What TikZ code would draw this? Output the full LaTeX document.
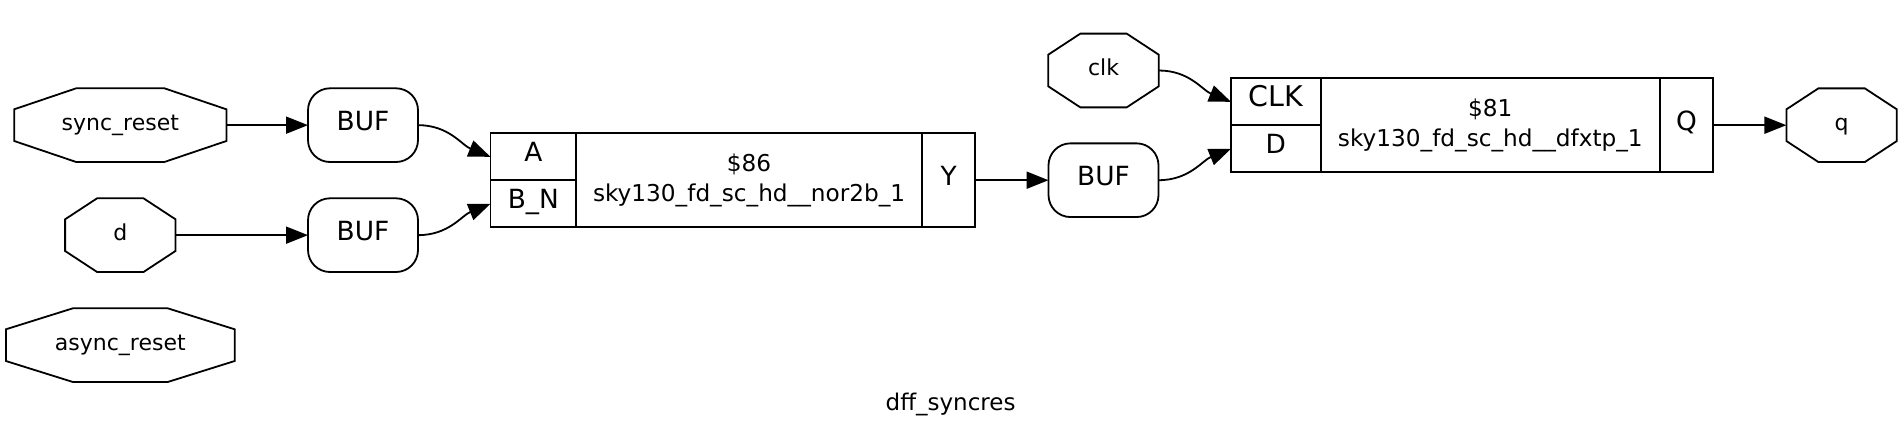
\documentclass[tikz,border=0pt]{standalone}
\usepackage{fontspec}
\setmainfont{DejaVu Sans}
\usetikzlibrary{arrows.meta,positioning}

\begin{document}
\begin{tikzpicture}[%
    x=1pt, y=-1pt,
    >={Triangle[length=22pt,width=17pt]},
    line width=1.8pt,
    ]
\tikzset{
  base/.style={draw, outer sep=0pt, inner sep=0pt, align=center},
  smalltext/.style={font=\fontsize{22}{30}\selectfont, text height=17pt, text depth=7pt},
  bigtext/.style={font=\fontsize{26.4}{30}\selectfont, text height=17pt, text depth=7pt},
  gatetext/.style={font=\fontsize{23.2}{30}\selectfont},
  octport/.style 2 args={smalltext, outer sep=0pt, inner sep=0pt, minimum height=73.7pt, minimum width=#1,
    append after command={\pgfextra{\draw ([xshift=#2]\tikzlastnode.north west) -- ([xshift=-#2]\tikzlastnode.north east)
      -- ([yshift=-21pt]\tikzlastnode.north east) -- ([yshift=21pt]\tikzlastnode.south east)
      -- ([xshift=-#2]\tikzlastnode.south east) -- ([xshift=#2]\tikzlastnode.south west)
      -- ([yshift=21pt]\tikzlastnode.south west) -- ([yshift=-21pt]\tikzlastnode.north west) -- cycle;}}},
  octwide/.style={octport={212.2pt}{62pt}},
  octlong/.style={octport={228.8pt}{67pt}},
  octshort/.style={octport={110.4pt}{32pt}},
  bufbox/.style={base, bigtext, rounded corners=22pt, minimum width=110pt, minimum height=73.7pt},
  pincell/.style={base, bigtext, minimum height=47pt},
  gatecell/.style={base, gatetext, minimum height=93.8pt},
  wire/.style={->}
}
    % inputs of the nor gate
    \node [octwide] (syncreset) at (120.3,125.15) {sync\_reset};
    \node [bufbox, right=81.6pt of syncreset] (bufsync) {BUF};
    \node [octshort, below=36.3pt of syncreset] (din) {d};
    \node [bufbox, below=36.3pt of bufsync] (bufd) {BUF};
    \node [octlong, below=36.3pt of din] (asyncreset) {async\_reset};
    % nor gate
    \node [pincell, minimum width=85.7pt] (pina) at (533.35,156.8) {A};
    \node [pincell, minimum width=85.7pt, below=0pt of pina] (pinbn) {B\_N};
    \node [gatecell, minimum width=345.8pt, anchor=north west] (nor) at (pina.north east) {\$86\\sky130\_fd\_sc\_hd\_\_nor2b\_1};
    \node [gatecell, bigtext, minimum width=53.3pt, anchor=north west] (piny) at (nor.north east) {Y};
    \node [bufbox, right=73.2pt of piny] (bufy) {BUF};
    \node [octshort, above=36pt of bufy] (clk) {clk};
    % flip flop
    \node [pincell, minimum width=89.6pt, font=\fontsize{28.5}{30}\selectfont] (pinclk) at (1275.8,101.8) {CLK};
    \node [pincell, minimum width=89.6pt, below=0pt of pinclk] (pind) {D};
    \node [gatecell, minimum width=339.4pt, anchor=north west] (dff) at (pinclk.north east) {\$81\\sky130\_fd\_sc\_hd\_\_dfxtp\_1};
    \node [gatecell, bigtext, minimum width=53.2pt, anchor=north west] (pinq) at (dff.north east) {Q};
    \node [octshort, right=73.2pt of pinq] (qout) {q};
    \node [smalltext, font=\fontsize{23}{30}\selectfont, inner sep=0pt] (title) at (950.6,405.5) {dff\_syncres};
    % connections
    \draw [wire] (syncreset.east) -- (bufsync.west);
    \draw [wire] (din.east) -- (bufd.west);
    \draw [wire] (bufsync.east) to [out=0, in=158] (pina.west);
    \draw [wire] (bufd.east) to [out=0, in=202] (pinbn.west);
    \draw [wire] (piny.east) -- (bufy.west);
    \draw [wire] (clk.east) to [out=0, in=158] (pinclk.west);
    \draw [wire] (bufy.east) to [out=0, in=202] (pind.west);
    \draw [wire] (pinq.east) -- (qout.west);
    \useasboundingbox (0,0) rectangle (1902,436);
\end{tikzpicture}
\end{document}
